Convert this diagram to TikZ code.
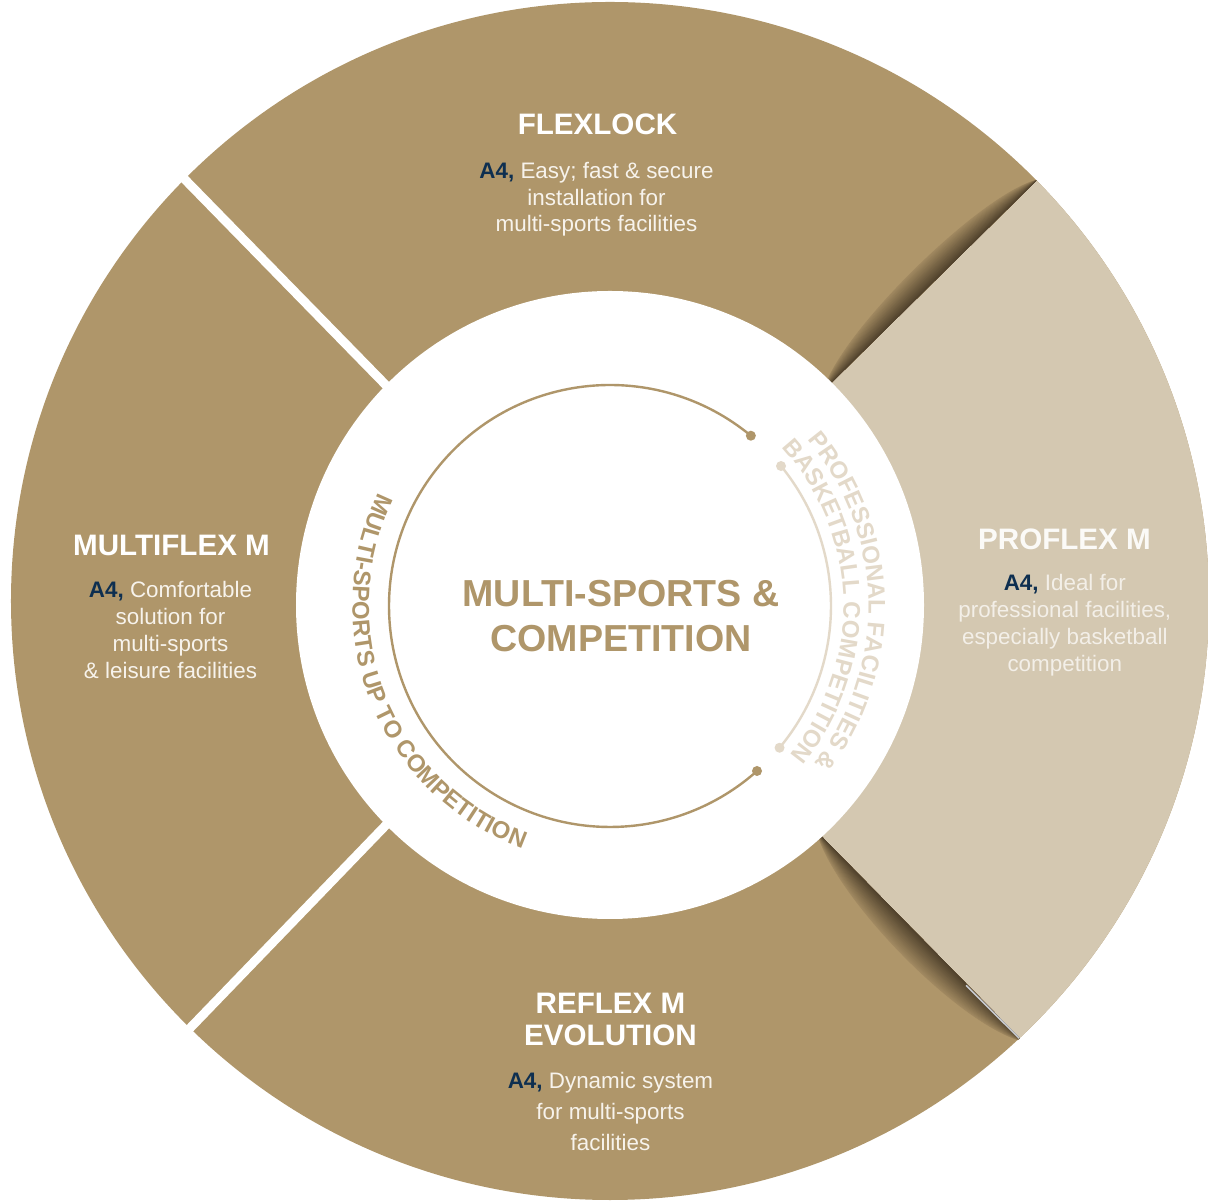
\documentclass[tikz,border=0pt]{standalone}
\usepackage{fontspec}
\setmainfont{Liberation Sans}
\usetikzlibrary{decorations.text}

\definecolor{goldc}{HTML}{AF966A}
\definecolor{beigec}{HTML}{D4C8B1}
\definecolor{shadec}{HTML}{4A3C28}
\definecolor{navyc}{HTML}{0E2F50}
\definecolor{lightc}{HTML}{E3D9C9}
\definecolor{txtc}{HTML}{F7F3EC}
\definecolor{protitlec}{HTML}{FBFAF7}
\definecolor{protxtc}{HTML}{F3EFE8}
\definecolor{edgec}{HTML}{C9CCD2}

\newcommand{\Afour}{\textcolor{navyc}{\bfseries A4,}}
\newcommand{\arcfont}{\fontsize{12}{14}\selectfont\bfseries}

\tikzset{
  segtitle/.style={anchor=base, align=center, text=white, font=\fontsize{14.8}{15.9}\selectfont\bfseries},
  segtext/.style={anchor=base, align=center, text=txtc, font=\fontsize{11.2}{13.3}\selectfont},
  centitle/.style={anchor=base, align=center, text=goldc, font=\fontsize{18.8}{22.7}\selectfont\bfseries},
  gap/.style={white, line width=4.5pt},
}

\begin{document}
\begin{tikzpicture}[x=0.5pt, y=0.5pt]
	%%%%% frame %%%%%
	\useasboundingbox (-610,-601) rectangle (598,601);
	\coordinate (O) at (0,0);
	\coordinate (C1) at (0,-4);
	\coordinate (C2) at (0,-5);
	
	%%%%% ring %%%%%
	\fill[goldc] (O) circle (599);
	\begin{scope}
		\clip (O) circle (599);
		\fill[beigec] (150,148) -- (620,612) -- (900,0) -- (508,-537) -- (135,-157) -- cycle;
		
		% curl on the upper edge
		\begin{scope}[rotate=44.6]
			\foreach \i in {0,...,19}{
				\pgfmathsetmacro\k{30*(1-\i/20)}
				\pgfmathtruncatemacro\m{15+77*\i/19}
				\fill[shadec!\m!goldc] (300,0) .. controls (350,\k) and (550,\k) .. (600,0) -- cycle;
			}
		\end{scope}
		
		% curl on the lower edge
		\begin{scope}[shift={(213.3,-237.3)}, rotate=-45.5]
			\foreach \i in {0,...,19}{
				\pgfmathsetmacro\k{34*(1-\i/20)}
				\pgfmathtruncatemacro\m{15+77*\i/19}
				\fill[shadec!\m!goldc] (-10,0) .. controls (50,-\k) and (230,-\k) .. (285,0) -- cycle;
			}
			\draw[edgec, line width=0.8pt] (205,-1.2) -- (285,-0.4);
		\end{scope}
	\end{scope}
	
	\draw[gap] (-126.5,116) -- (-500.8,499);
	\draw[gap] (-126,-122.5) -- (-498,-508);
	
	\fill[white] (C1) circle (314);
	
	%%%%% inner arcs %%%%%
	\draw[goldc, line width=1.2pt] (C2) ++(50.4:221) coordinate (ga)
		arc[start angle=50.4, end angle=311.7, radius=221] coordinate (gb);
	\fill[goldc] (ga) circle (5) (gb) circle (5);
	
	\draw[lightc, line width=1.2pt] (C2) ++(39.3:221) coordinate (la)
		arc[start angle=39.3, end angle=-39.9, radius=221] coordinate (lb);
	\fill[lightc] (la) circle (5) (lb) circle (5);
	
	\path[decorate, decoration={text along path, text align=center, text color=goldc,
		text={|\arcfont|MULTI-SPORTS UP TO COMPETITION}}]
		(C2) ++(132:257.6) arc[start angle=132, end angle=272, radius=257.6];
	\path[decorate, decoration={text along path, text align=center, text color=lightc,
		text={|\arcfont|PROFESSIONAL FACILITIES {\&}}}]
		(C2) ++(71.2:258.5) arc[start angle=71.2, end angle=-68.8, radius=258.5];
	\path[decorate, decoration={text along path, text align=center, text color=lightc,
		text={|\arcfont|BASKETBALL COMPETITION}}]
		(C2) ++(71.4:233.5) arc[start angle=71.4, end angle=-68.6, radius=233.5];
	
	%%%%% labels (base = last line) %%%%%
	\node[centitle] (centre) at (11,-51) {MULTI-SPORTS \&\\COMPETITION};
	
	\node[segtitle] (flexlock) at (-12.5,466) {FLEXLOCK};
	\node[segtext] (flexlockTxt) at (-13.5,369.3) {\Afour{} Easy; fast \& secure\\installation for\\multi-sports facilities};
	
	\node[segtitle] (multiflex) at (-438.5,45) {MULTIFLEX M};
	\node[segtext, font=\fontsize{11.2}{13.5}\selectfont] (multiflexTxt) at (-439.5,-77.3) {\Afour{} Comfortable\\solution for\\multi-sports\\\& leisure facilities};
	
	\node[segtitle, text=protitlec] (proflex) at (454.5,51) {PROFLEX M};
	\node[segtext, text=protxtc, font=\fontsize{11.2}{13.45}\selectfont] (proflexTxt) at (454.8,-70.7) {\Afour{} Ideal for\\professional facilities,\\especially basketball\\competition};
	
	\node[segtitle] (reflex) at (0.5,-444) {REFLEX M\\EVOLUTION};
	\node[segtext, font=\fontsize{11.2}{15.5}\selectfont] (reflexTxt) at (0.5,-549) {\Afour{} Dynamic system\\for multi-sports\\facilities};
\end{tikzpicture}
\end{document}
